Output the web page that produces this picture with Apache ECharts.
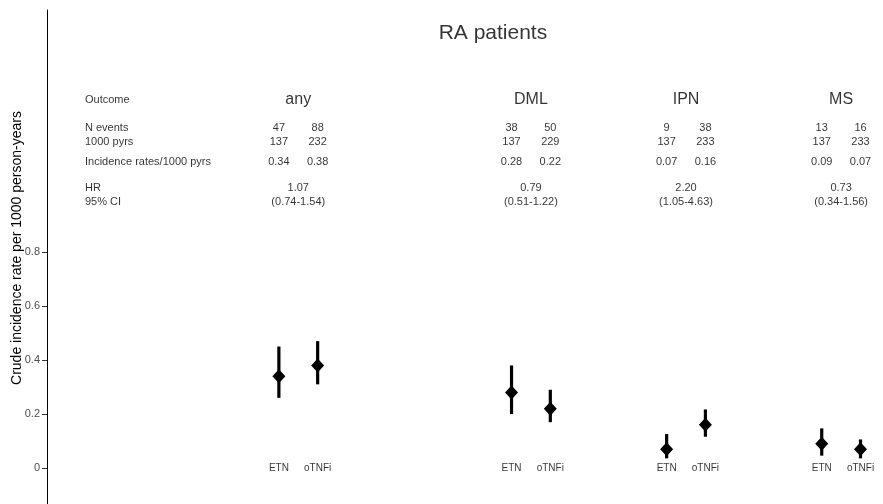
<!DOCTYPE html>
<html>
<head>
    <meta charset="utf-8">
    <title>RA patients</title>
    <script src="https://cdn.jsdelivr.net/npm/echarts@6/dist/echarts.min.js"></script>
</head>
<body style="margin:0">
<div id="main" style="width: 883px;height:504px;"></div>
<script type="text/javascript">
    // outcomes and their x position (ETN at pos, oTNFi at pos + 0.5)
    var outcomes = ['any', 'DML', 'IPN', 'MS'];
    var outcomePos = [1, 4, 6, 8];
    var groups = ['ETN', 'oTNFi'];

    // crude incidence rate and 95% CI, [ETN, oTNFi] per outcome
    var rate = [[0.34, 0.38], [0.28, 0.22], [0.07, 0.16], [0.09, 0.07]];
    var ciLow = [[0.26, 0.31], [0.20, 0.17], [0.036, 0.116], [0.046, 0.036]];
    var ciHigh = [[0.45, 0.47], [0.38, 0.29], [0.126, 0.217], [0.147, 0.106]];

    // table rows
    var nEvents = [['47', '88'], ['38', '50'], ['9', '38'], ['13', '16']];
    var pyrs = [['137', '232'], ['137', '229'], ['137', '233'], ['137', '233']];
    var irText = [['0.34', '0.38'], ['0.28', '0.22'], ['0.07', '0.16'], ['0.09', '0.07']];
    var hr = ['1.07', '0.79', '2.20', '0.73'];
    var ci = ['(0.74-1.54)', '(0.51-1.22)', '(1.05-4.63)', '(0.34-1.56)'];

    var rowLabels = ['Outcome', 'N events', '1000 pyrs', 'Incidence rates/1000 pyrs', 'HR', '95% CI'];
    var rowY = [1.363, 1.259, 1.207, 1.133, 1.037, 0.985];
    var rowLabelX = -1.5;
    var titleText = 'RA patients';
    var titlePos = [3.76, 1.61];
    var yTicks = [0, 0.2, 0.4, 0.6, 0.8];

    var points = [], bars = [], groupLabels = [];
    var headers = [], cells = [], midCells = [];
    outcomes.forEach(function (o, i) {
        groups.forEach(function (g, j) {
            var x = outcomePos[i] + 0.5 * j;
            points.push([x, rate[i][j]]);
            bars.push([x, ciLow[i][j], ciHigh[i][j]]);
            groupLabels.push({value: [x, 0], name: g});
            cells.push({value: [x, rowY[1]], name: nEvents[i][j]});
            cells.push({value: [x, rowY[2]], name: pyrs[i][j]});
            cells.push({value: [x, rowY[3]], name: irText[i][j]});
        });
        var mid = outcomePos[i] + 0.25;
        headers.push({value: [mid, rowY[0]], name: o});
        midCells.push({value: [mid, rowY[4]], name: hr[i]});
        midCells.push({value: [mid, rowY[5]], name: ci[i]});
    });
    var rowNames = rowLabels.map(function (r, k) {
        return {value: [rowLabelX, rowY[k]], name: r};
    });

    function textSeries(data, size, align) {
        return {
            type: 'scatter',
            symbolSize: 0,
            silent: true,
            data: data,
            label: {
                show: true,
                position: 'inside',
                align: align || 'center',
                verticalAlign: 'middle',
                fontFamily: 'Liberation Sans',
                fontSize: size,
                color: '#000',
                textBorderWidth: 0,
                formatter: function (p) { return p.name; }
            }
        };
    }

    var myChart = echarts.init(document.getElementById('main'));
    var option = {
        animation: false,
        grid: {left: 47, right: 0, top: 10, bottom: 0, outerBoundsMode: 'none'},
        xAxis: {
            type: 'value',
            min: -1.99,
            max: 8.79,
            show: false
        },
        yAxis: {
            type: 'value',
            min: -0.133,
            max: 1.696,
            name: 'Crude incidence rate per 1000 person-years',
            nameLocation: 'middle',
            nameGap: 23,
            nameMoveOverlap: false,
            nameTextStyle: {
                fontFamily: 'Liberation Sans', fontSize: 14, color: '#000',
                padding: [0, 0, 0, 18]
            },
            axisLine: {show: true, onZero: false, lineStyle: {color: '#000', width: 1}},
            axisTick: {show: true, length: 5, customValues: yTicks, lineStyle: {color: '#333'}},
            axisLabel: {
                customValues: yTicks,
                fontFamily: 'Liberation Sans',
                fontSize: 11,
                color: '#4d4d4d',
                margin: 7
            },
            splitLine: {show: false}
        },
        series: [
            {
                type: 'custom',
                silent: true,
                data: bars,
                renderItem: function (params, api) {
                    var a = api.coord([api.value(0), api.value(1)]);
                    var b = api.coord([api.value(0), api.value(2)]);
                    return {
                        type: 'line',
                        shape: {x1: a[0], y1: a[1], x2: b[0], y2: b[1]},
                        style: {stroke: '#000', lineWidth: 3.2}
                    };
                }
            },
            {
                type: 'scatter',
                symbol: 'diamond',
                symbolSize: [13, 14],
                itemStyle: {color: '#000', opacity: 1},
                data: points
            },
            textSeries(groupLabels, 10),
            textSeries(headers, 16),
            textSeries(cells, 11),
            textSeries(midCells, 11),
            textSeries(rowNames, 11, 'left'),
            textSeries([{value: titlePos, name: titleText}], 21)
        ]
    };
    myChart.setOption(option);
</script>
</body>
</html>
